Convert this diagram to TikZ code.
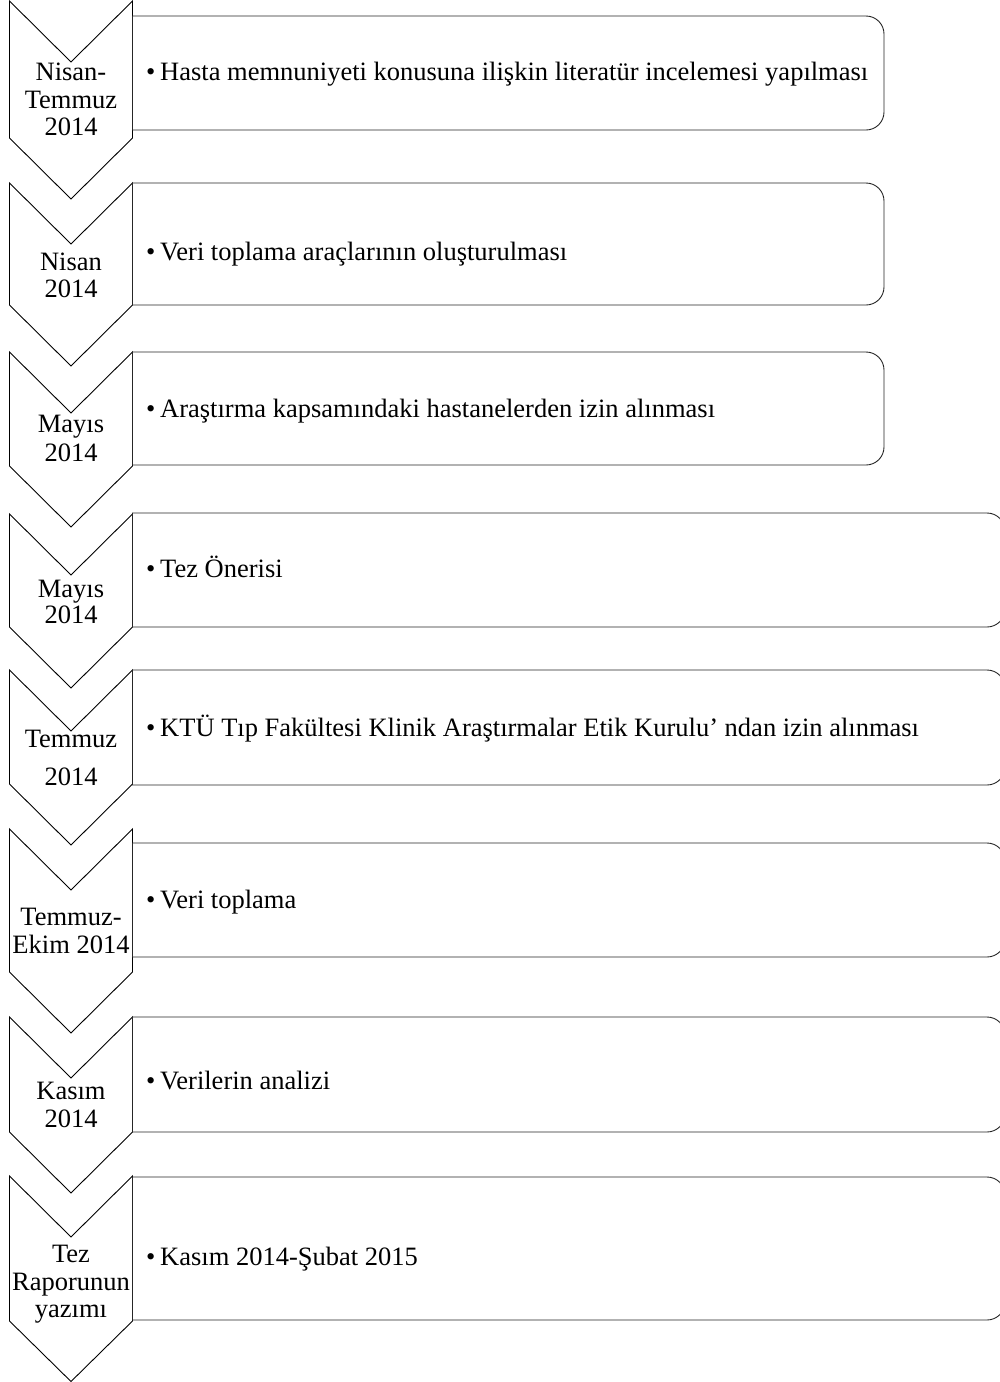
\documentclass[tikz,border=0pt]{standalone}
\usepackage{fontspec}
\setmainfont{Liberation Serif}
\newcommand\mychev[4]{\draw[chevsty] (9.5,-#1) -- (71,-#2) -- (132.5,-#1) -- (132.5,-#3) -- (71,-#4) -- (9.5,-#3) -- cycle;}
\newcommand\mybox[3]{\draw[boxsty] (132.5,-#1) -- ({#3-18},-#1) arc[start angle=90,end angle=0,radius=18pt] -- (#3,{-#2+18}) arc[start angle=0,end angle=-90,radius=18pt] -- (132.5,-#2) -- cycle;}
\tikzset{
  chevsty/.style={draw=black, line width=0.9pt, line join=miter},
  boxsty/.style={draw=black!85, line width=0.9pt},
  lbl/.style={font=\fontsize{26.5}{27.5}\selectfont, inner sep=0pt, anchor=base},
  itm/.style={font=\fontsize{26.5}{27.5}\selectfont, inner sep=0pt, anchor=base west},
}
\newcommand\bul{\makebox[14pt][l]{•}}
\begin{document}
\begin{tikzpicture}[x=1pt,y=1pt]
\clip (0,0) rectangle (1000,-1382);
% chevrons
\mychev{1}{62}{138}{199}
\mychev{183}{244}{305}{366}
\mychev{352}{413}{466}{527}
\mychev{514}{575}{627}{688}
\mychev{670}{731}{784}{845}
\mychev{829}{890}{972}{1033}
\mychev{1017}{1078}{1132}{1193}
\mychev{1176}{1237}{1321}{1381.5}
% boxes
\mybox{16}{130}{884}
\mybox{183}{305}{884}
\mybox{352}{465}{884}
\mybox{513}{627}{1005}
\mybox{670}{785}{1005}
\mybox{843}{957}{1005}
\mybox{1017}{1132}{1005}
\mybox{1177}{1320}{1005}
% chevron labels
\node[lbl] (c1a) at (71,-80) {Nisan-};
\node[lbl] (c1b) at (71,-108) {Temmuz};
\node[lbl] (c1c) at (71,-135) {2014};
\node[lbl] (c2a) at (71,-270) {Nisan};
\node[lbl] (c2b) at (71,-297) {2014};
\node[lbl] (c3a) at (71,-432) {Mayıs};
\node[lbl] (c3b) at (71,-461) {2014};
\node[lbl] (c4a) at (71,-597) {Mayıs};
\node[lbl] (c4b) at (71,-623) {2014};
\node[lbl] (c5a) at (71,-747) {Temmuz};
\node[lbl] (c5b) at (71,-785) {2014};
\node[lbl] (c6a) at (71,-925) {Temmuz-};
\node[lbl] (c6b) at (71,-953) {Ekim 2014};
\node[lbl] (c7a) at (71,-1099) {Kasım};
\node[lbl] (c7b) at (71,-1127) {2014};
\node[lbl] (c8a) at (71,-1262) {Tez};
\node[lbl] (c8b) at (71,-1290) {Raporunun};
\node[lbl] (c8c) at (71,-1317) {yazımı};
% box texts
\node[itm] (t1) at (146,-80) {\bul Hasta memnuniyeti konusuna ilişkin literatür incelemesi yapılması};
\node[itm] (t2) at (146,-260) {\bul Veri toplama araçlarının oluşturulması};
\node[itm] (t3) at (146,-417) {\bul Araştırma kapsamındaki hastanelerden izin alınması};
\node[itm] (t4) at (146,-577) {\bul Tez Önerisi};
\node[itm] (t5) at (146,-736) {\bul KTÜ Tıp Fakültesi Klinik Araştırmalar Etik Kurulu’ ndan izin alınması};
\node[itm] (t6) at (146,-908) {\bul Veri toplama};
\node[itm] (t7) at (146,-1089) {\bul Verilerin analizi};
\node[itm] (t8) at (146,-1265) {\bul Kasım 2014-Şubat 2015};
\end{tikzpicture}
\end{document}
